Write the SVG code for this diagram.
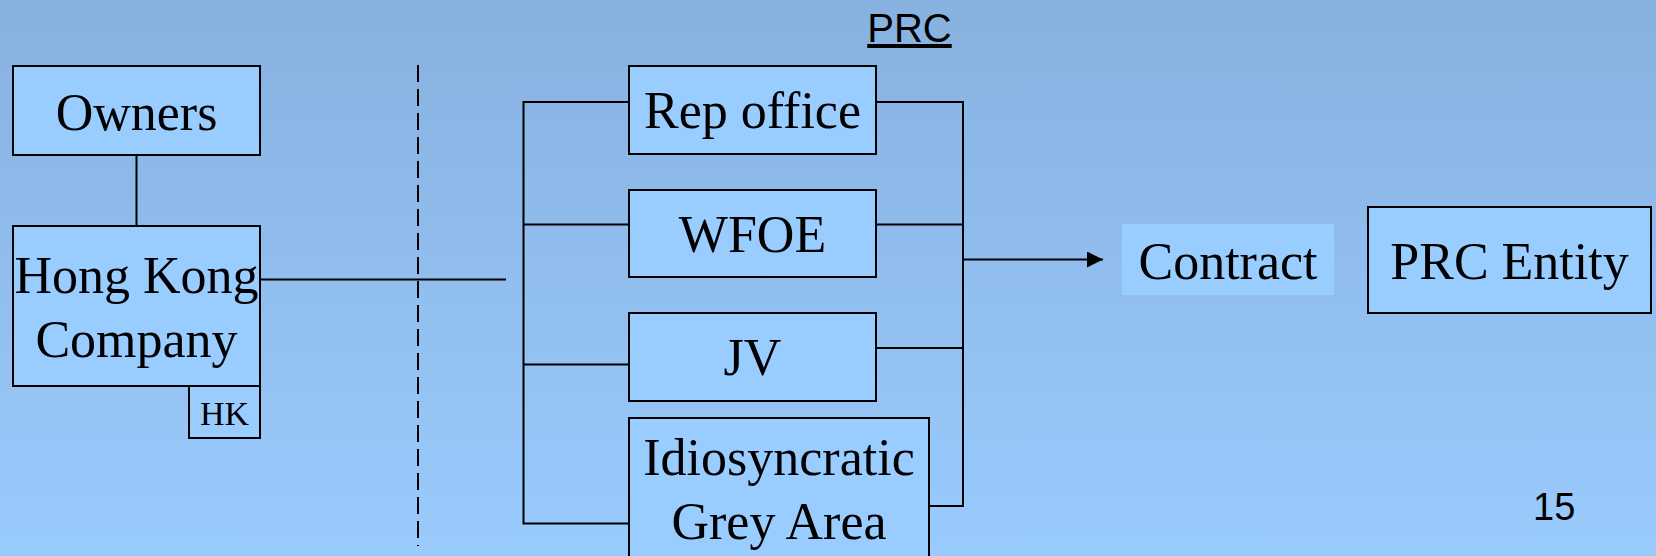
<svg xmlns="http://www.w3.org/2000/svg" width="1656" height="556" viewBox="0 0 1656 556">
<defs>
<linearGradient id="bg" x1="0" y1="0" x2="0" y2="1">
<stop offset="0" stop-color="#87b1df"/>
<stop offset="1" stop-color="#9acbfd"/>
</linearGradient>
<marker id="arr" markerWidth="16" markerHeight="16" refX="16" refY="8" orient="auto" markerUnits="userSpaceOnUse">
<path d="M0,0 L16,8 L0,16 Z" fill="#000"/>
</marker>
</defs>
<style>
.box{fill:#99ccff;stroke:#000;stroke-width:2}
.t{font-family:"Liberation Serif","Times New Roman",serif;font-size:52px;fill:#000;text-anchor:middle}
.s{font-family:"Liberation Sans",Arial,sans-serif;fill:#000}
.ln{fill:none;stroke:#000;stroke-width:2}
</style>
<rect x="0" y="0" width="1656" height="556" fill="url(#bg)"/>
<text class="s" x="909.5" y="42" font-size="40" text-anchor="middle" text-decoration="underline">PRC</text>
<g id="connectors">
<line class="ln" x1="136.5" y1="155" x2="136.5" y2="226"/>
<line class="ln" x1="260" y1="279.5" x2="506" y2="279.5"/>
<line class="ln" x1="418" y1="65" x2="418" y2="546" stroke-dasharray="17 7"/>
<polyline class="ln" points="629,102 523.5,102 523.5,523.5 629,523.5"/>
<line class="ln" x1="523.5" y1="224.5" x2="629" y2="224.5"/>
<line class="ln" x1="523.5" y1="364.5" x2="629" y2="364.5"/>
<polyline class="ln" points="876,102 963,102 963,506 929,506"/>
<line class="ln" x1="876" y1="224.5" x2="963" y2="224.5"/>
<line class="ln" x1="876" y1="348" x2="963" y2="348"/>
<line class="ln" x1="963" y1="259.5" x2="1103" y2="259.5" marker-end="url(#arr)"/>
</g>
<g id="owners">
<rect class="box" x="13" y="66" width="247" height="89"/>
<text class="t" x="136.5" y="130">Owners</text>
</g>
<g id="hk-company">
<rect class="box" x="13" y="226" width="247" height="160"/>
<text class="t" x="136.5" y="293">Hong Kong</text>
<text class="t" x="136.5" y="357">Company</text>
</g>
<g id="hk-tag">
<rect class="box" x="189" y="386" width="71" height="52"/>
<text class="t" x="224.5" y="425" font-size="34" style="font-size:34px">HK</text>
</g>
<g id="rep-office">
<rect class="box" x="629" y="66" width="247" height="88"/>
<text class="t" x="752.5" y="128">Rep office</text>
</g>
<g id="wfoe">
<rect class="box" x="629" y="190" width="247" height="87"/>
<text class="t" x="752.5" y="252">WFOE</text>
</g>
<g id="jv">
<rect class="box" x="629" y="313" width="247" height="88"/>
<text class="t" x="752.5" y="375">JV</text>
</g>
<g id="grey-area">
<rect class="box" x="629" y="418" width="300" height="150"/>
<text class="t" x="779" y="475">Idiosyncratic</text>
<text class="t" x="779" y="539">Grey Area</text>
</g>
<g id="contract">
<rect x="1122" y="224" width="212" height="71" fill="#99ccff"/>
<text class="t" x="1228" y="279">Contract</text>
</g>
<g id="prc-entity">
<rect class="box" x="1368" y="207" width="283" height="106"/>
<text class="t" x="1509.5" y="279">PRC Entity</text>
</g>
<text class="s" x="1533" y="520" font-size="38">15</text>
</svg>
